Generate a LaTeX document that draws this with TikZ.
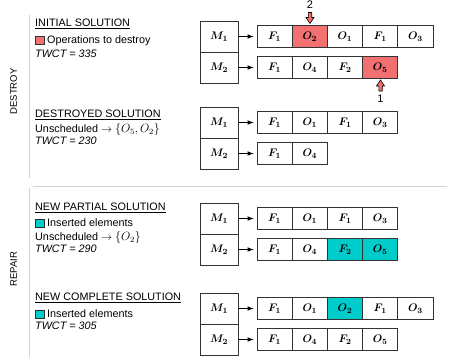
\documentclass[tikz,border=0pt]{standalone}
\usepackage{fontspec}
\setmainfont{Liberation Sans}
\usepackage{amsmath}
\definecolor{dred}{RGB}{242,112,112}
\definecolor{teal2}{RGB}{0,204,204}
\definecolor{sepgray}{RGB}{210,210,210}
\begin{document}
\begin{tikzpicture}[x=1pt,y=-1pt,
  cell/.style={draw=black!80, line width=0.8pt, minimum width=35.2pt, minimum height=22.5pt, inner sep=0pt, font=\boldmath\fontsize{11}{12}\selectfont},
  mbox/.style={draw=black!80, line width=0.8pt, minimum width=38pt, minimum height=31pt, inner sep=0pt, font=\boldmath\fontsize{11}{12}\selectfont},
  conn/.style={-latex, line width=1.1pt, shorten >=3pt},
  txt/.style={anchor=base west, inner sep=0pt, font=\fontsize{10.8}{12}\selectfont},
  side/.style={rotate=90, inner sep=0pt, font=\fontsize{9.5}{11}\selectfont},
  legsq/.style={draw=black!80, line width=0.6pt, minimum width=9pt, minimum height=8pt, inner sep=0pt},
  blk/.style={draw=black, line width=0.6pt, fill=dred}
]
\useasboundingbox (0,0) rectangle (459,360);

% separators
\draw[sepgray, line width=0.8pt] (29.5,15) -- (29.5,178);
\draw[sepgray, line width=0.8pt] (29.5,188) -- (29.5,357);
\draw[sepgray, line width=0.8pt] (33,186) -- (447,186);

\node[side] (destroy) at (13.5,91.5) {DESTROY};
\node[side] (repair) at (13.5,269) {REPAIR};

% left texts
\node[txt] (h1) at (35,26.7) {\underline{INITIAL SOLUTION}};
\node[legsq, fill=dred, anchor=north west] (sq1) at (35,35.5) {};
\node[txt] (t1) at (47,43.3) {Operations to destroy};
\node[txt] (w1) at (35,57.7) {\textit{TWCT = 335}};

\node[txt] (h2) at (35,117.3) {\underline{DESTROYED SOLUTION}};
\node[txt] (u2) at (35,132.7) {Unscheduled $\rightarrow$ {\fontsize{12}{13}\selectfont$\{O_5,O_2\}$}};
\node[txt] (w2) at (35,144.5) {\textit{TWCT = 230}};

\node[txt] (h3) at (35,210.7) {\underline{NEW PARTIAL SOLUTION}};
\node[legsq, fill=teal2, anchor=north west] (sq3) at (35,219) {};
\node[txt] (t3) at (47,226.7) {Inserted elements};
\node[txt] (u3) at (35,240.3) {Unscheduled $\rightarrow$ {\fontsize{12}{13}\selectfont$\{O_2\}$}};
\node[txt] (w3) at (35,252.7) {\textit{TWCT = 290}};

\node[txt] (h4) at (35,300.7) {\underline{NEW COMPLETE SOLUTION}};
\node[legsq, fill=teal2, anchor=north west] (sq4) at (35,309.5) {};
\node[txt] (t4) at (47,317.3) {Inserted elements};
\node[txt] (w4) at (35,329.3) {\textit{TWCT = 305}};

% machines and sequences
\newcommand{\seqrow}[3]{%
  \foreach [count=\i] \lab/\fc in {#3} {
    \node[cell, fill=\fc] (#1-\i) at ({257+35.2*(\i-0.5)}, #2) {$\lab$};
  }%
}
\newcommand{\machines}[2]{%
  \node[mbox] (#1-m1) at (219,#2+15.5) {$M_1$};
  \node[mbox] (#1-m2) at (219,#2+46.5) {$M_2$};
}

% block 1
\machines{a}{21}
\seqrow{a1}{36.5}{F_1/white, O_2/dred, O_1/white, F_1/white, O_3/white}
\seqrow{a2}{67.5}{F_1/white, O_4/white, F_2/white, O_5/dred}
\draw[conn] (a-m1) -- (a1-1);
\draw[conn] (a-m2) -- (a2-1);

% block 2
\machines{b}{107}
\seqrow{b1}{122.5}{F_1/white, O_1/white, F_1/white, O_3/white}
\seqrow{b2}{153.5}{F_1/white, O_4/white}
\draw[conn] (b-m1) -- (b1-1);
\draw[conn] (b-m2) -- (b2-1);

% block 3
\machines{c}{203}
\seqrow{c1}{218.5}{F_1/white, O_1/white, F_1/white, O_3/white}
\seqrow{c2}{249.5}{F_1/white, O_4/white, F_2/teal2, O_5/teal2}
\draw[conn] (c-m1) -- (c1-1);
\draw[conn] (c-m2) -- (c2-1);

% block 4
\machines{d}{293}
\seqrow{d1}{308.5}{F_1/white, O_1/white, O_2/teal2, F_1/white, O_3/white}
\seqrow{d2}{339.5}{F_1/white, O_4/white, F_2/white, O_5/white}
\draw[conn] (d-m1) -- (d1-1);
\draw[conn] (d-m2) -- (d2-1);

% block arrows
\draw[blk] (308.3,12.5) -- (311.7,12.5) -- (311.7,17.5) -- (314,17.5) -- (310,23.5) -- (306,17.5) -- (308.3,17.5) -- cycle;
\node[inner sep=0pt, font=\fontsize{11}{12}\selectfont] (n2) at (310,5) {2};
\draw[blk] (378.8,91) -- (382.2,91) -- (382.2,86) -- (384.5,86) -- (380.5,80) -- (376.5,86) -- (378.8,86) -- cycle;
\node[inner sep=0pt, font=\fontsize{11}{12}\selectfont] (n1) at (380.5,98.5) {1};
\end{tikzpicture}
\end{document}
